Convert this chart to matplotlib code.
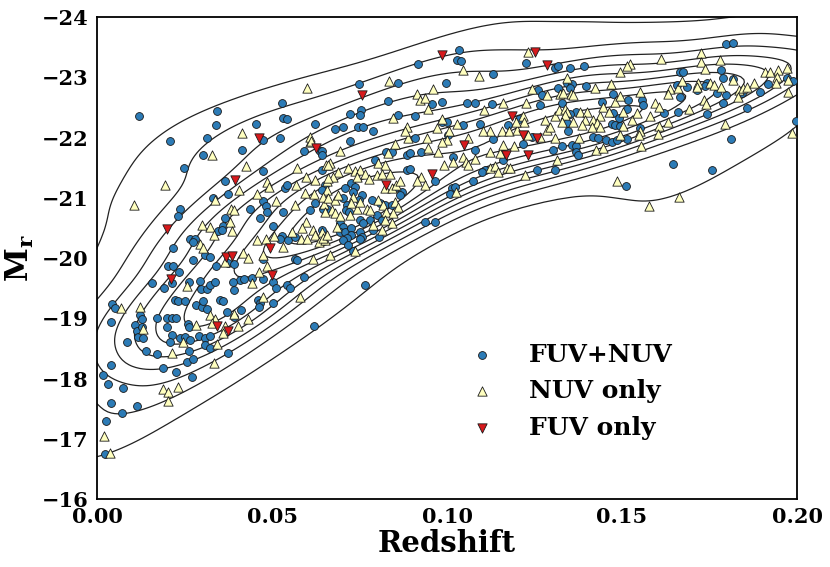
import numpy as np
import matplotlib
matplotlib.use("Agg")
import matplotlib.pyplot as plt

# ---------------- data (redshift, M_r) ----------------
fuv_nuv = [
    (0.0237,-20.81),(0.0232,-20.70),(0.0218,-20.17),(0.0204,-19.87),(0.0216,-19.87),(0.0156,-19.58),
    (0.0190,-19.50),(0.0213,-19.58),(0.0235,-19.76),(0.0223,-19.30),(0.0230,-19.28),(0.0042,-19.24),
    (0.0051,-19.17),(0.0123,-19.05),(0.0128,-18.99),(0.0109,-18.89),(0.0113,-18.79),(0.0118,-18.69),
    (0.0132,-18.67),(0.0128,-18.86),(0.0039,-18.93),(0.0087,-18.61),(0.0170,-19.00),(0.0201,-19.00),
    (0.0213,-19.01),(0.0226,-19.01),(0.0201,-18.85),(0.0213,-18.72),(0.0209,-18.61),(0.0140,-18.46),
    (0.0170,-18.41),(0.0039,-18.22),(0.0018,-18.06),(0.0030,-17.91),(0.0073,-17.84),(0.0039,-17.60),
    (0.0070,-17.42),(0.0113,-17.54),(0.0025,-17.29),(0.0023,-16.74),(0.0188,-18.18),(0.0226,-18.10),
    (0.0263,-19.60),(0.0250,-19.28),(0.0294,-19.62),(0.0297,-19.48),(0.0313,-19.48),(0.0323,-19.55),
    (0.0337,-19.61),(0.0283,-19.22),(0.0299,-19.19),(0.0313,-19.16),(0.0304,-19.28),(0.0350,-19.30),
    (0.0361,-19.28),(0.0370,-19.11),(0.0390,-19.02),(0.0411,-19.13),(0.0259,-18.90),(0.0263,-18.85),
    (0.0237,-18.68),(0.0251,-18.69),(0.0267,-18.64),(0.0290,-18.71),(0.0309,-18.67),(0.0323,-18.71),
    (0.0309,-18.56),(0.0323,-18.50),(0.0263,-18.46),(0.0256,-18.28),(0.0275,-18.32),(0.0373,-18.42),
    (0.0270,-18.03),(0.0620,-18.87),(0.0461,-19.30),(0.0466,-19.25),(0.0464,-19.19),(0.0502,-19.26),
    (0.0409,-19.64),(0.0421,-19.65),(0.0443,-19.66),(0.0475,-19.65),(0.0504,-19.61),(0.0511,-19.50),
    (0.0542,-19.56),(0.0550,-19.50),(0.0590,-19.68),(0.0390,-19.47),(0.0388,-19.61),
    (0.0302,-21.71),(0.0413,-21.80),(0.0249,-21.49),(0.0366,-21.28),(0.0375,-21.06),(0.0330,-20.99),
    (0.0437,-20.82),(0.0475,-20.95),(0.0483,-20.87),(0.0487,-20.77),(0.0466,-20.66),(0.0366,-20.67),
    (0.0359,-20.53),(0.0347,-20.45),(0.0356,-20.46),(0.0537,-21.17),(0.0542,-21.21),(0.0473,-21.45),
    (0.0590,-21.78),(0.0504,-20.53),(0.0532,-20.77),(0.0266,-20.31),(0.0280,-20.31),(0.0275,-20.27),
    (0.0309,-20.05),(0.0323,-20.02),(0.0275,-19.97),(0.0340,-19.87),(0.0375,-19.91),(0.0392,-19.90),
    (0.0473,-19.99),(0.0528,-20.36),(0.0523,-20.31),(0.0547,-20.30),(0.0566,-20.35),(0.0608,-20.80),
    (0.0623,-20.92),(0.0566,-19.98),(0.0570,-19.96),
    (0.0121,-22.35),(0.0209,-21.94),(0.0342,-22.44),(0.0340,-22.20),(0.0313,-22.00),(0.0454,-22.22),
    (0.0475,-21.96),(0.0523,-21.99),(0.0528,-22.57),(0.0532,-22.33),(0.0544,-22.30),(0.0623,-22.22),
    (0.0637,-21.78),
    (0.0918,-23.22),(0.0748,-22.89),(0.0859,-22.91),(0.0832,-22.61),(0.0723,-22.39),(0.0753,-22.45),
    (0.0751,-22.37),(0.0861,-22.37),(0.0908,-22.36),(0.0956,-22.55),(0.1035,-23.46),(0.0767,-19.56),
    (0.0732,-20.12),(0.1013,-21.16),(0.1008,-21.07),
    (0.0680,-22.14),(0.0704,-22.18),(0.0747,-22.18),(0.0761,-22.17),(0.0788,-22.11),(0.0642,-21.78),
    (0.0642,-21.71),(0.0723,-21.95),(0.0827,-21.76),(0.0842,-21.76),(0.0885,-21.71),(0.0894,-21.74),
    (0.0927,-21.76),(0.1002,-22.04),(0.0908,-21.99),(0.0794,-21.63),(0.0885,-21.46),(0.0894,-21.47),
    (0.0966,-21.27),(0.0651,-21.21),(0.0642,-21.13),(0.0727,-21.24),(0.0737,-21.18),(0.0708,-21.16),
    (0.0732,-21.10),(0.0756,-21.05),(0.0749,-20.96),(0.0704,-20.99),(0.0713,-20.88),(0.0711,-20.80),
    (0.0721,-20.77),(0.0785,-20.96),(0.0808,-20.91),(0.0823,-20.88),(0.0842,-20.88),(0.0656,-20.82),
    (0.0646,-20.81),(0.0780,-20.63),(0.0799,-20.71),(0.0813,-20.63),(0.0751,-20.63),(0.0759,-20.58),
    (0.0694,-20.58),(0.0704,-20.52),(0.0694,-20.44),(0.0708,-20.44),(0.0727,-20.49),(0.0725,-20.38),
    (0.0713,-20.33),(0.0704,-20.30),(0.0718,-20.22),(0.0751,-20.44),(0.0756,-20.35),(0.0751,-20.31),
    (0.0789,-20.46),(0.0806,-20.35),(0.0851,-21.16),(0.0870,-21.10),(0.0866,-21.05),(0.0937,-20.60),
    (0.0966,-20.60),(0.0642,-20.46),(0.0642,-21.46),
    (0.1028,-23.29),(0.1039,-23.27),(0.1226,-23.23),(0.1309,-23.15),(0.1318,-23.18),(0.1130,-23.06),
    (0.0997,-22.90),(0.0985,-22.59),(0.1056,-22.58),(0.1080,-22.57),(0.1128,-22.55),(0.1261,-22.79),
    (0.1270,-22.71),(0.1266,-22.54),(0.1318,-22.82),(0.1328,-22.57),(0.0985,-22.26),(0.0999,-22.26),
    (0.1047,-22.21),(0.1094,-22.23),(0.1175,-22.21),(0.1207,-22.30),(0.1342,-22.24),(0.1347,-22.10),
    (0.1132,-21.97),(0.1242,-22.01),(0.1218,-21.90),(0.1080,-21.79),(0.1304,-21.79),(0.1018,-21.68),
    (0.1109,-21.46),(0.1099,-21.43),(0.1161,-21.63),(0.1309,-21.46),(0.1023,-21.18),(0.1075,-21.27),
    (0.1256,-21.46),
    (0.1350,-23.16),(0.1392,-23.19),(0.1342,-22.91),(0.1356,-22.89),(0.1350,-22.83),(0.1397,-22.85),
    (0.1473,-22.73),(0.1442,-22.59),(0.1518,-22.63),(0.1556,-22.62),(0.1561,-22.54),(0.1513,-22.48),
    (0.1369,-22.43),(0.1352,-22.39),(0.1475,-22.40),(0.1490,-22.32),(0.1471,-22.23),(0.1480,-22.21),
    (0.1494,-22.19),(0.1620,-22.41),(0.1661,-22.43),(0.1666,-23.09),(0.1675,-23.09),(0.1656,-22.87),
    (0.1685,-22.84),(0.1666,-22.68),(0.1328,-21.86),(0.1356,-21.88),(0.1369,-21.86),(0.1369,-21.76),
    (0.1375,-21.71),(0.1418,-22.01),(0.1430,-21.99),(0.1454,-21.96),(0.1471,-21.93),(0.1485,-21.96),
    (0.1513,-21.97),(0.1551,-22.15),(0.1645,-21.56),
    (0.1796,-23.56),(0.1818,-23.57),(0.1784,-23.12),(0.1742,-22.91),(0.1789,-22.98),(0.1816,-22.97),
    (0.1770,-22.74),(0.1797,-22.70),(0.1844,-22.74),(0.1894,-22.76),(0.1789,-22.57),(0.1858,-22.49),
    (0.1744,-22.39),(0.1970,-22.98),(0.1989,-22.94),(0.1918,-22.89),(0.1997,-22.28),(0.1810,-21.97),
    (0.1756,-21.46),(0.1713,-22.79),(0.1737,-22.85),(0.1511,-21.19),
]

nuv_only = [
    (0.0107,-20.88),(0.0123,-19.18),(0.0068,-19.17),(0.0130,-18.82),(0.0213,-18.43),(0.0021,-17.05),
    (0.0037,-16.77),(0.0188,-17.82),(0.0204,-17.78),(0.0230,-17.86),(0.0202,-17.62),
    (0.0258,-19.54),(0.0323,-19.05),(0.0337,-18.98),(0.0328,-18.92),(0.0366,-18.87),(0.0359,-18.76),
    (0.0404,-18.87),(0.0432,-18.98),(0.0390,-19.07),(0.0283,-18.88),(0.0247,-18.61),(0.0342,-18.57),
    (0.0334,-18.25),(0.0475,-19.36),(0.0580,-19.36),(0.0442,-19.58),(0.0464,-19.77),
    (0.0329,-21.71),(0.0427,-21.52),(0.0406,-21.13),(0.0456,-21.07),(0.0485,-21.26),(0.0492,-21.18),
    (0.0337,-20.97),(0.0382,-20.81),(0.0390,-20.79),(0.0511,-20.94),(0.0566,-20.88),(0.0570,-21.49),
    (0.0597,-21.35),(0.0623,-21.29),(0.0654,-21.54),(0.0569,-21.21),(0.0594,-21.08),(0.0620,-21.06),
    (0.0597,-20.60),(0.0585,-20.49),(0.0616,-20.47),(0.0642,-20.44),(0.0649,-20.90),(0.0656,-21.13),
    (0.0299,-20.55),(0.0323,-20.52),(0.0333,-20.38),(0.0380,-20.60),(0.0385,-20.45),(0.0294,-20.24),
    (0.0302,-20.16),(0.0416,-20.08),(0.0432,-20.00),(0.0475,-20.05),(0.0456,-20.30),(0.0483,-20.31),
    (0.0506,-20.37),(0.0556,-20.44),(0.0582,-20.31),(0.0601,-20.31),(0.0623,-20.38),(0.0635,-20.27),
    (0.0651,-20.30),(0.0530,-20.19),(0.0618,-19.99),(0.0366,-19.94),(0.0487,-19.86),(0.0608,-21.93),
    (0.0599,-22.82),(0.0413,-22.08),(0.0194,-21.21),(0.0609,-22.01),(0.0611,-21.95),
    (0.0835,-22.94),(0.0913,-22.72),(0.0923,-22.63),(0.0937,-22.65),(0.0959,-22.80),(0.0945,-22.47),
    (0.0845,-22.32),(0.0666,-20.05),(0.0737,-20.12),(0.1027,-21.10),
    (0.0694,-21.78),(0.0666,-21.57),(0.0661,-21.54),(0.0689,-21.43),(0.0675,-21.35),(0.0656,-21.27),
    (0.0661,-21.32),(0.0718,-21.49),(0.0737,-21.45),(0.0751,-21.46),(0.0766,-21.40),(0.0742,-21.35),
    (0.0778,-21.31),(0.0799,-21.38),(0.0804,-21.57),(0.0823,-21.54),(0.0832,-21.74),(0.0885,-22.18),
    (0.0889,-21.99),(0.0880,-22.10),(0.0851,-21.90),(0.0942,-21.99),(0.0970,-22.15),(0.0947,-21.82),
    (0.0975,-21.76),(0.0927,-21.35),(0.0913,-21.27),(0.0937,-21.21),(0.0813,-21.40),(0.0823,-21.16),
    (0.0842,-21.16),(0.0854,-21.21),(0.0866,-21.27),(0.0837,-21.40),(0.0646,-21.02),(0.0661,-20.99),
    (0.0680,-20.96),(0.0689,-21.05),(0.0670,-20.80),(0.0680,-20.74),(0.0651,-20.77),(0.0732,-21.02),
    (0.0727,-20.91),(0.0742,-20.82),(0.0751,-20.93),(0.0770,-20.82),(0.0780,-20.80),(0.0804,-20.96),
    (0.0818,-20.88),(0.0827,-20.77),(0.0851,-20.93),(0.0861,-20.85),(0.0847,-20.74),(0.0823,-20.63),
    (0.0842,-20.575),(0.0813,-20.46),(0.0694,-20.69),(0.0723,-20.71),(0.0646,-20.33),(0.0656,-20.38),
    (0.0685,-20.52),(0.0789,-20.55),
    (0.1047,-23.12),(0.1092,-23.02),(0.1230,-23.42),(0.1242,-22.80),(0.1285,-22.71),(0.1323,-22.73),
    (0.1332,-22.74),(0.1161,-22.58),(0.1226,-22.58),(0.0985,-22.30),(0.1028,-22.23),(0.1106,-22.45),
    (0.1123,-22.11),(0.1156,-22.10),(0.1178,-22.10),(0.1199,-22.12),(0.1218,-22.35),(0.1221,-22.26),
    (0.1197,-22.25),(0.1230,-22.04),(0.1280,-22.29),(0.1309,-22.35),(0.1321,-22.46),(0.1337,-22.48),
    (0.1285,-22.12),(0.1294,-22.18),(0.1266,-22.01),(0.1309,-21.99),(0.1007,-22.10),(0.0999,-21.96),
    (0.0985,-21.93),(0.1061,-22.00),(0.1102,-22.10),(0.0990,-21.54),(0.1018,-21.60),(0.1047,-21.68),
    (0.1054,-21.60),(0.1061,-21.54),(0.1080,-21.65),(0.1123,-21.76),(0.1151,-21.74),(0.1161,-21.88),
    (0.1191,-21.86),(0.1123,-21.49),(0.1137,-21.52),(0.1147,-21.43),(0.1170,-21.49),(0.1180,-21.49),
    (0.1223,-21.38),(0.1313,-21.63),
    (0.1523,-23.22),(0.1513,-23.18),(0.1494,-23.08),(0.1611,-23.30),(0.1344,-22.98),(0.1468,-22.89),
    (0.1423,-22.82),(0.1353,-22.73),(0.1361,-22.70),(0.1551,-22.76),(0.1480,-22.59),(0.1494,-22.69),
    (0.1637,-22.80),(0.1632,-22.73),(0.1661,-22.83),(0.1671,-22.93),(0.1594,-22.57),(0.1607,-22.51),
    (0.1690,-22.48),(0.1344,-22.43),(0.1337,-22.37),(0.1328,-22.26),(0.1380,-22.43),(0.1401,-22.43),
    (0.1394,-22.29),(0.1418,-22.29),(0.1437,-22.35),(0.1428,-22.24),(0.1437,-22.18),(0.1413,-22.18),
    (0.1385,-22.21),(0.1361,-22.26),(0.1447,-22.51),(0.1464,-22.43),(0.1504,-22.43),(0.1528,-22.29),
    (0.1542,-22.40),(0.1580,-22.36),(0.1630,-22.26),(0.1607,-22.19),(0.1604,-22.06),(0.1504,-22.19),
    (0.1494,-22.04),(0.1551,-22.10),(0.1548,-22.04),(0.1378,-21.99),(0.1426,-21.79),(0.1447,-21.82),
    (0.1553,-21.86),
    (0.1727,-23.41),(0.1727,-23.26),(0.1737,-23.13),(0.1780,-23.29),(0.1718,-22.91),(0.1713,-22.84),
    (0.1751,-22.90),(0.1763,-22.87),(0.1784,-22.84),(0.1816,-22.95),(0.1734,-22.62),(0.1740,-22.56),
    (0.1835,-22.79),(0.1846,-22.82),(0.1856,-22.84),(0.1877,-22.91),(0.1908,-23.09),(0.1923,-23.08),
    (0.1946,-23.12),(0.1942,-23.01),(0.1972,-23.16),(0.1975,-22.95),(0.1940,-22.90),(0.1975,-22.76),
    (0.1985,-22.07),(0.1794,-22.23),(0.1832,-22.67),(0.1486,-21.28),(0.1664,-21.02),(0.1578,-20.86),
]

fuv_only = [
    (0.0201,-20.48),(0.0210,-19.65),(0.0342,-18.87),(0.0373,-18.79),(0.0499,-19.72),
    (0.0394,-21.29),(0.0494,-20.16),(0.0369,-20.02),(0.0385,-20.03),(0.0626,-21.82),
    (0.0464,-21.99),(0.0756,-22.71),(0.0827,-21.21),(0.0956,-21.39),
    (0.0985,-23.37),(0.1250,-23.42),(0.1285,-23.20),(0.1185,-22.35),(0.1216,-22.04),
    (0.1256,-22.00),(0.1049,-21.88),(0.1169,-21.71),(0.1230,-21.71),
]

labels = ["FUV+NUV", "NUV only", "FUV only"]
x_ticks = [0.00, 0.05, 0.10, 0.15, 0.20]
y_ticks = [-24, -23, -22, -21, -20, -19, -18, -17, -16]

# ---------------- style ----------------
plt.rcParams['font.family'] = ['DejaVu Serif']
plt.rcParams['font.weight'] = 'bold'
plt.rcParams['mathtext.fontset'] = 'dejavuserif'

fn = np.array(fuv_nuv)
nu = np.array(nuv_only)
fu = np.array(fuv_only)

fig = plt.figure(figsize=(8.30, 5.67), dpi=100)
ax = fig.add_axes([0.1169, 0.1199, 0.8434, 0.8501])

# ---------------- density contours (Gaussian KDE of all points) ----------------
allp = np.vstack([fn, nu, fu])
n = len(allp)
bw = n ** (-1.0 / 6.0)
cov = np.cov(allp.T) * bw ** 2
inv = np.linalg.inv(cov)
gx = np.linspace(-0.01, 0.21, 220)
gy = np.linspace(-24.5, -15.5, 200)
GX, GY = np.meshgrid(gx, gy)
dens = np.zeros_like(GX)
for px, py in allp:
    dx = GX - px
    dy = GY - py
    q = inv[0, 0] * dx * dx + 2 * inv[0, 1] * dx * dy + inv[1, 1] * dy * dy
    dens += np.exp(-0.5 * q)
dens /= dens.max()
levels = np.linspace(0.045, 0.86, 10)
ax.contour(GX, GY, dens, levels=levels, colors='#222222', linewidths=0.9, zorder=1)

# ---------------- scatter ----------------
ax.scatter(fn[:, 0], fn[:, 1], s=32, marker='o', c='#2c7bb6', edgecolors='#1a1a1a',
           linewidths=0.6, zorder=3, label=labels[0])
ax.scatter(nu[:, 0], nu[:, 1], s=45, marker='^', c='#ffffbf', edgecolors='#1a1a1a',
           linewidths=0.6, zorder=3, label=labels[1])
ax.scatter(fu[:, 0], fu[:, 1], s=45, marker='v', c='#d7191c', edgecolors='#1a1a1a',
           linewidths=0.6, zorder=4, label=labels[2])

ax.set_xlim(0.0, 0.2)
ax.set_ylim(-16, -24)
ax.set_xticks(x_ticks)
ax.set_xticklabels(["%.2f" % v for v in x_ticks])
ax.set_yticks(y_ticks)
ax.tick_params(axis='both', length=0, labelsize=15, pad=6)
for lab in ax.get_xticklabels() + ax.get_yticklabels():
    lab.set_fontweight('bold')
for sp in ax.spines.values():
    sp.set_linewidth(1.3)
    sp.set_color('black')

ax.set_xlabel('Redshift', fontsize=21, fontweight='bold', labelpad=1)
ax.set_ylabel(r'$\mathbf{M_r}$', fontsize=22, labelpad=4)

leg = ax.legend(loc='center left', bbox_to_anchor=(0.514, 0.224), frameon=False,
                borderpad=0, borderaxespad=0, scatterpoints=1, handletextpad=0.9,
                labelspacing=0.5, prop={'size': 18, 'weight': 'bold'})

fig.savefig('out.png', dpi=100)
